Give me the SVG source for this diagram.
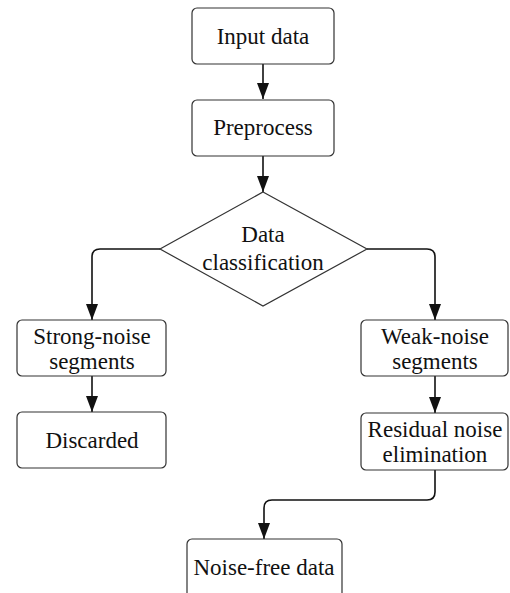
<svg xmlns="http://www.w3.org/2000/svg" width="510" height="593" viewBox="0 0 510 593">
  <style>
    .box { fill: #fff; stroke: #333; stroke-width: 1.2; }
    .lbl { font-family: "Liberation Serif", "Times New Roman", serif; font-size: 23px; fill: #111; text-anchor: middle; }
    .edge { fill: none; stroke: #111; stroke-width: 1.6; }
  </style>
  <defs>
    <marker id="head" markerWidth="16" markerHeight="12" refX="16" refY="6" orient="auto" markerUnits="userSpaceOnUse" viewBox="0 0 16 12">
      <path d="M0,0 L16,6 L0,12 Z" fill="#111"/>
    </marker>
  </defs>
  <rect width="510" height="593" fill="#fff"/>

  <g id="connectors">
    <path class="edge" d="M263,64 V99" marker-end="url(#head)"/>
    <path class="edge" d="M263,156 V192" marker-end="url(#head)"/>
    <path class="edge" d="M160,249 H100 Q92,249 92,257 V320" marker-end="url(#head)"/>
    <path class="edge" d="M367,249 H427 Q435,249 435,257 V320" marker-end="url(#head)"/>
    <path class="edge" d="M92,376 V412" marker-end="url(#head)"/>
    <path class="edge" d="M435,376 V413" marker-end="url(#head)"/>
    <path class="edge" d="M435,470 V492 Q435,500 427,500 H272 Q264,500 264,508 V539" marker-end="url(#head)"/>
  </g>

  <g id="input-data">
    <rect class="box" x="192" y="8" width="142" height="56" rx="5"/>
    <text class="lbl" x="263" y="44">Input data</text>
  </g>
  <g id="preprocess">
    <rect class="box" x="192" y="100" width="142" height="56" rx="5"/>
    <text class="lbl" x="263" y="135">Preprocess</text>
  </g>
  <g id="data-classification">
    <polygon class="box" points="263,192 367,249 263,306 160,249"/>
    <text class="lbl" x="263" y="242">Data</text>
    <text class="lbl" x="263" y="270">classification</text>
  </g>
  <g id="strong-noise">
    <rect class="box" x="17" y="320" width="149" height="56" rx="5"/>
    <text class="lbl" x="92" y="344">Strong-noise</text>
    <text class="lbl" x="92" y="369">segments</text>
  </g>
  <g id="weak-noise">
    <rect class="box" x="361" y="320" width="147" height="56" rx="5"/>
    <text class="lbl" x="435" y="344">Weak-noise</text>
    <text class="lbl" x="435" y="369">segments</text>
  </g>
  <g id="discarded">
    <rect class="box" x="17" y="412" width="149" height="56" rx="5"/>
    <text class="lbl" x="92" y="448">Discarded</text>
  </g>
  <g id="residual">
    <rect class="box" x="361" y="413" width="147" height="57" rx="5"/>
    <text class="lbl" x="435" y="437">Residual noise</text>
    <text class="lbl" x="435" y="462">elimination</text>
  </g>
  <g id="noise-free">
    <rect class="box" x="187" y="539" width="155" height="70" rx="5"/>
    <text class="lbl" x="264" y="575">Noise-free data</text>
  </g>
</svg>
